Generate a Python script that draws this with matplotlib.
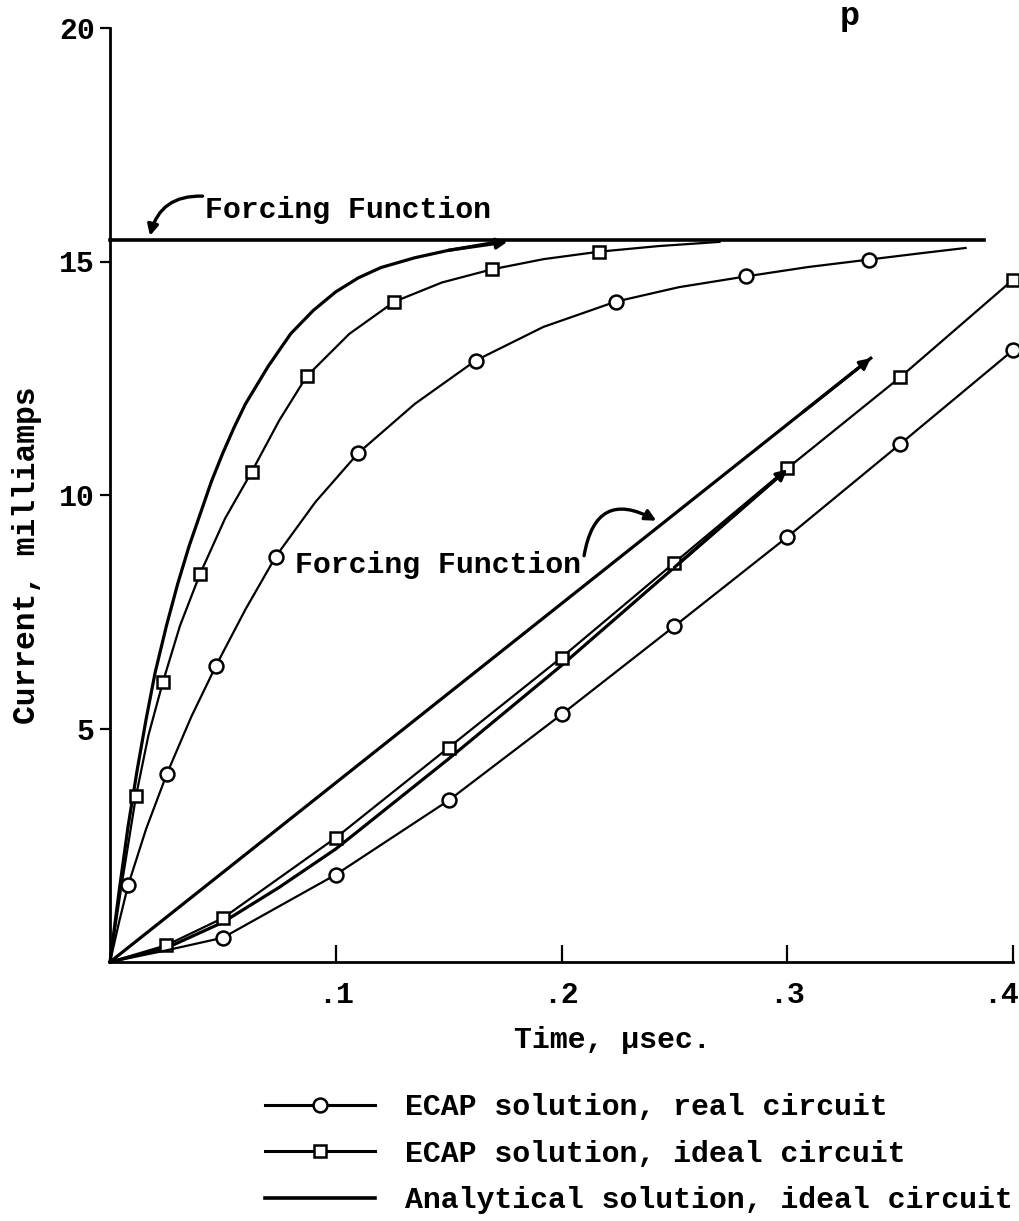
import matplotlib
matplotlib.use("Agg")
import matplotlib.pyplot as plt
from matplotlib.lines import Line2D
from matplotlib.transforms import ScaledTranslation

# ---------------- data ----------------
# step forcing function
t_step_force = [0.0, 0.387]
i_step_force = [15.45, 15.45]

# analytical solution, ideal circuit (step)
t_an_step = [0, 0.004, 0.008, 0.012, 0.016, 0.02, 0.025, 0.03, 0.035, 0.04, 0.045,
             0.05, 0.055, 0.06, 0.07, 0.08, 0.09, 0.1, 0.11, 0.12, 0.135, 0.15, 0.172]
i_an_step = [0, 1.5, 2.9, 4.1, 5.2, 6.2, 7.2, 8.1, 8.9, 9.6, 10.3,
             10.9, 11.45, 11.95, 12.75, 13.45, 13.95, 14.35, 14.65, 14.87, 15.08, 15.24, 15.42]

# ECAP solution, ideal circuit (step); markers on the flagged points
t_sq_step = [0, 0.005, 0.0115, 0.017, 0.0234, 0.031, 0.0398, 0.051, 0.0628, 0.075,
             0.0871, 0.106, 0.126, 0.147, 0.169, 0.192, 0.2166, 0.243, 0.27]
i_sq_step = [0, 1.6, 3.55, 4.85, 5.99, 7.2, 8.30, 9.5, 10.5, 11.6,
             12.54, 13.45, 14.14, 14.55, 14.83, 15.05, 15.21, 15.33, 15.42]
sq_step_marked = [2, 4, 6, 8, 10, 12, 14, 16]

# ECAP solution, real circuit (step)
t_ci_step = [0, 0.004, 0.008, 0.016, 0.0252, 0.036, 0.0469, 0.06, 0.0734, 0.091, 0.110,
             0.135, 0.162, 0.192, 0.224, 0.252, 0.2816, 0.309, 0.336, 0.358, 0.379]
i_ci_step = [0, 0.85, 1.64, 2.85, 4.03, 5.25, 6.34, 7.55, 8.68, 9.85, 10.9,
             11.95, 12.88, 13.6, 14.14, 14.45, 14.68, 14.88, 15.04, 15.17, 15.29]
ci_step_marked = [2, 4, 6, 8, 10, 12, 14, 16, 18]

# ramp forcing function
t_ramp_force = [0.0, 0.337]
i_ramp_force = [0.0, 12.93]

# analytical solution, ideal circuit (ramp)
t_an_ramp = [0, 0.025, 0.05, 0.075, 0.1, 0.15, 0.2, 0.25, 0.3]
i_an_ramp = [0, 0.3, 0.85, 1.6, 2.42, 4.35, 6.35, 8.45, 10.55]

# ECAP solution, ideal circuit (ramp)
t_sq_ramp = [0, 0.025, 0.05, 0.1, 0.15, 0.2, 0.25, 0.3, 0.35, 0.4]
i_sq_ramp = [0, 0.36, 0.94, 2.66, 4.59, 6.52, 8.55, 10.57, 12.52, 14.61]

# ECAP solution, real circuit (ramp)
t_ci_ramp = [0, 0.025, 0.05, 0.1, 0.15, 0.2, 0.25, 0.3, 0.35, 0.4]
i_ci_ramp = [0, 0.25, 0.52, 1.87, 3.46, 5.30, 7.19, 9.10, 11.09, 13.10]

x_ticks = [0.1, 0.2, 0.3, 0.4]
x_tick_labels = ['.1', '.2', '.3', '.4']
y_ticks = [5, 10, 15, 20]
y_tick_labels = ['5', '10', '15', '20']

legend_labels = ['ECAP solution, real circuit',
                 'ECAP solution, ideal circuit',
                 'Analytical solution, ideal circuit']

# ---------------- style ----------------
plt.rcParams['font.family'] = ['Liberation Mono', 'DejaVu Sans Mono']
plt.rcParams['font.weight'] = 'bold'
plt.rcParams['axes.labelweight'] = 'bold'
FS = 21.5
K = 'black'

fig = plt.figure(figsize=(10.19, 12.21), dpi=100)
ax = fig.add_axes([110 / 1019, 1 - 962 / 1221, 903 / 1019, 934 / 1221])
ax.set_xlim(0, 0.4)
ax.set_ylim(0, 20)

for s in ('top', 'right'):
    ax.spines[s].set_visible(False)
for s in ('left', 'bottom'):
    ax.spines[s].set_linewidth(2.0)

ax.set_xticks(x_ticks)
ax.set_xticklabels(x_tick_labels, fontsize=FS)
ax.set_yticks(y_ticks)
ax.set_yticklabels(y_tick_labels, fontsize=FS)
ax.tick_params(axis='x', direction='in', length=12, width=1.6, pad=14)
ax.tick_params(axis='y', direction='out', length=7, width=1.6, pad=4)
# last x tick label sits at the page edge: keep it inside
last = ax.get_xticklabels()[-1]
last.set_horizontalalignment('right')
last.set_transform(last.get_transform() + ScaledTranslation(6 / 100, 0, fig.dpi_scale_trans))

ecap_lw = 1.6
an_lw = 2.3
circ = dict(marker='o', ms=10, mfc='white', mec=K, mew=1.8)
sq = dict(marker='s', ms=9, mfc='white', mec=K, mew=1.8)
arrow = dict(arrowstyle='-|>', color=K, mutation_scale=16, shrinkA=0, shrinkB=0)

# step forcing
ax.plot(t_step_force, i_step_force, color=K, lw=2.6, clip_on=False)
# analytical step
ax.plot(t_an_step, i_an_step, color=K, lw=an_lw, clip_on=False)
ax.annotate('', xy=(t_an_step[-1] + 0.004, i_an_step[-1]), xytext=(t_an_step[-2], i_an_step[-2]),
            arrowprops=dict(lw=an_lw, **arrow))
# ECAP ideal step
ax.plot(t_sq_step, i_sq_step, color=K, lw=ecap_lw, markevery=sq_step_marked, clip_on=False, **sq)
# ECAP real step
ax.plot(t_ci_step, i_ci_step, color=K, lw=ecap_lw, markevery=ci_step_marked, clip_on=False, **circ)

# ramp forcing
ax.plot(t_ramp_force, i_ramp_force, color=K, lw=2.3, clip_on=False)
ax.annotate('', xy=(t_ramp_force[-1], i_ramp_force[-1]),
            xytext=(t_ramp_force[-1] - 0.03, i_ramp_force[-1] - 0.03 * (i_ramp_force[-1] / t_ramp_force[-1])),
            arrowprops=dict(lw=2.3, **arrow))
# analytical ramp
ax.plot(t_an_ramp, i_an_ramp, color=K, lw=an_lw, clip_on=False)
ax.annotate('', xy=(t_an_ramp[-1], i_an_ramp[-1]), xytext=(t_an_ramp[-2], i_an_ramp[-2]),
            arrowprops=dict(lw=an_lw, **arrow))
# ECAP ideal ramp
ax.plot(t_sq_ramp, i_sq_ramp, color=K, lw=ecap_lw, markevery=list(range(1, len(t_sq_ramp))),
        clip_on=False, **sq)
# ECAP real ramp
ax.plot(t_ci_ramp, i_ci_ramp, color=K, lw=ecap_lw, markevery=list(range(2, len(t_ci_ramp))),
        clip_on=False, **circ)

# annotations
ax.text(0.042, 16.1, 'Forcing Function', fontsize=FS, ha='left', va='center')
ax.annotate('', xy=(0.0177, 15.55), xytext=(0.041, 16.4),
            arrowprops=dict(lw=2.4, connectionstyle='arc3,rad=0.4', **arrow))

ax.text(0.0818, 8.5, 'Forcing Function', fontsize=FS, ha='left', va='center')
ax.annotate('', xy=(0.242, 9.45), xytext=(0.210, 8.7),
            arrowprops=dict(lw=2.4, connectionstyle='arc3,rad=-0.7', **arrow))

# axis labels
ax.set_xlabel('Time, \u00b5sec.', fontsize=FS, va='center')
ax.xaxis.set_label_coords((612 - 110) / 903, (962 - 1040) / 934)
ax.set_ylabel('Current, milliamps', fontsize=FS + 1, va='center')
ax.yaxis.set_label_coords((27 - 110) / 903, (962 - 555) / 934)

# stray header letter at top of page
fig.text(850 / 1019, 1 - 16 / 1221, 'p', fontsize=24, ha='center', va='center')

# legend
handles = [Line2D([], [], color=K, lw=2.2, **circ),
           Line2D([], [], color=K, lw=2.2, **sq),
           Line2D([], [], color=K, lw=2.6)]
fig.legend(handles, legend_labels, loc='upper left',
           bbox_to_anchor=(265 / 1019, 1 - 1093 / 1221), frameon=False, fontsize=FS,
           handlelength=3.7, handletextpad=1.0, labelspacing=0.62, borderpad=0,
           borderaxespad=0, numpoints=1)

fig.savefig('out.png', dpi=100)
